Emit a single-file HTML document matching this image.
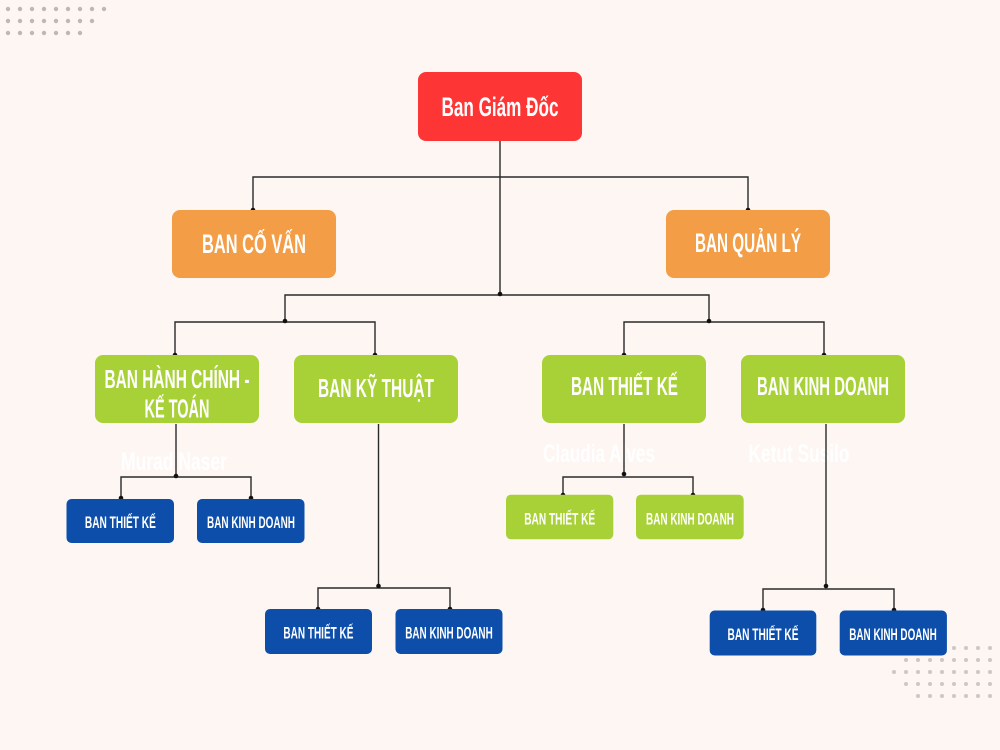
<!DOCTYPE html>
<html>
<head>
<meta charset="utf-8">
<style>
html,body{margin:0;padding:0;background:#fdf6f3;}
svg{display:block;}
text{font-family:"Liberation Sans",sans-serif;font-weight:bold;fill:#ffffff;}
</style>
</head>
<body>
<svg width="1000" height="750" viewBox="0 0 1000 750" xmlns="http://www.w3.org/2000/svg">
<rect x="0" y="0" width="1000" height="750" fill="#fdf6f3"/>

<!-- top-left dots -->
<g fill="#bdb8b6">
<circle cx="8" cy="9" r="2.2"/><circle cx="20" cy="9" r="2.2"/><circle cx="32" cy="9" r="2.2"/><circle cx="44" cy="9" r="2.2"/><circle cx="56" cy="9" r="2.2"/><circle cx="68" cy="9" r="2.2"/><circle cx="80" cy="9" r="2.2"/><circle cx="92" cy="9" r="2.2"/><circle cx="104" cy="9" r="2.2"/>
<circle cx="8" cy="21" r="2.2"/><circle cx="20" cy="21" r="2.2"/><circle cx="32" cy="21" r="2.2"/><circle cx="44" cy="21" r="2.2"/><circle cx="56" cy="21" r="2.2"/><circle cx="68" cy="21" r="2.2"/><circle cx="80" cy="21" r="2.2"/><circle cx="92" cy="21" r="2.2"/>
<circle cx="8" cy="33" r="2.2"/><circle cx="20" cy="33" r="2.2"/><circle cx="32" cy="33" r="2.2"/><circle cx="44" cy="33" r="2.2"/><circle cx="56" cy="33" r="2.2"/><circle cx="68" cy="33" r="2.2"/><circle cx="80" cy="33" r="2.2"/>
</g>

<!-- bottom-right dots -->
<g fill="#cdc8c6">
<circle cx="954" cy="648" r="2"/><circle cx="966" cy="648" r="2"/><circle cx="978" cy="648" r="2"/><circle cx="990" cy="648" r="2"/>
<circle cx="906" cy="660" r="2"/><circle cx="918" cy="660" r="2"/><circle cx="930" cy="660" r="2"/><circle cx="942" cy="660" r="2"/><circle cx="954" cy="660" r="2"/><circle cx="966" cy="660" r="2"/><circle cx="978" cy="660" r="2"/><circle cx="990" cy="660" r="2"/>
<circle cx="894" cy="672" r="2"/><circle cx="906" cy="672" r="2"/><circle cx="918" cy="672" r="2"/><circle cx="930" cy="672" r="2"/><circle cx="942" cy="672" r="2"/><circle cx="954" cy="672" r="2"/><circle cx="966" cy="672" r="2"/><circle cx="978" cy="672" r="2"/><circle cx="990" cy="672" r="2"/>
<circle cx="906" cy="684" r="2"/><circle cx="918" cy="684" r="2"/><circle cx="930" cy="684" r="2"/><circle cx="942" cy="684" r="2"/><circle cx="954" cy="684" r="2"/><circle cx="966" cy="684" r="2"/><circle cx="978" cy="684" r="2"/><circle cx="990" cy="684" r="2"/>
<circle cx="918" cy="696" r="2"/><circle cx="930" cy="696" r="2"/><circle cx="942" cy="696" r="2"/><circle cx="954" cy="696" r="2"/><circle cx="966" cy="696" r="2"/><circle cx="978" cy="696" r="2"/><circle cx="990" cy="696" r="2"/>
</g>

<!-- ghost names -->
<text x="174" y="470" font-size="25" text-anchor="middle" textLength="106" lengthAdjust="spacingAndGlyphs">Murad Naser</text>
<text x="599" y="462" font-size="25" text-anchor="middle" textLength="112" lengthAdjust="spacingAndGlyphs">Claudia Alves</text>
<text x="799" y="462" font-size="25" text-anchor="middle" textLength="101" lengthAdjust="spacingAndGlyphs">Ketut Susilo</text>

<!-- connectors -->
<g stroke="#2a2a2a" stroke-width="1.4" fill="none">
<path d="M500 141 V294"/>
<path d="M253 210 V177 H748 V210"/>
<path d="M285 321 V295 H709 V321"/>
<path d="M175 355 V322 H375 V355"/>
<path d="M624 355 V322 H824 V355"/>
<path d="M176 424 V476"/>
<path d="M121 498 V477 H251 V498"/>
<path d="M378.5 424 V586"/>
<path d="M318 609 V588 H450 V609"/>
<path d="M624 424 V474"/>
<path d="M563 495 V477 H693 V495"/>
<path d="M826 424 V586"/>
<path d="M763 610 V589 H894 V610"/>
</g>
<g fill="#111">
<circle cx="253" cy="210" r="2.3"/><circle cx="748" cy="210" r="2.3"/>
<circle cx="500" cy="294" r="2.3"/>
<circle cx="285" cy="321" r="2.3"/><circle cx="709" cy="321" r="2.3"/>
<circle cx="175" cy="355" r="2.3"/><circle cx="375" cy="355" r="2.3"/>
<circle cx="624" cy="355" r="2.3"/><circle cx="824" cy="355" r="2.3"/>
<circle cx="176" cy="476" r="2.3"/><circle cx="121" cy="498" r="2.3"/><circle cx="251" cy="498" r="2.3"/>
<circle cx="378.5" cy="586" r="2.3"/><circle cx="318" cy="609" r="2.3"/><circle cx="450" cy="609" r="2.3"/>
<circle cx="624" cy="474" r="2.3"/><circle cx="563" cy="495" r="2.3"/><circle cx="693" cy="495" r="2.3"/>
<circle cx="826" cy="586" r="2.3"/><circle cx="763" cy="610" r="2.3"/><circle cx="894" cy="610" r="2.3"/>
</g>

<!-- top box -->
<rect x="418" y="72" width="164" height="69" rx="8" fill="#fe3535"/>
<text x="500" y="116" font-size="27" text-anchor="middle" textLength="117" lengthAdjust="spacingAndGlyphs">Ban Giám Đốc</text>

<!-- orange -->
<rect x="172" y="210" width="164" height="68" rx="8" fill="#f39d46"/>
<text x="254" y="253" font-size="27" text-anchor="middle" textLength="104" lengthAdjust="spacingAndGlyphs">BAN CỐ VẤN</text>
<rect x="666" y="210" width="164" height="68" rx="8" fill="#f39d46"/>
<text x="748" y="252" font-size="27" text-anchor="middle" textLength="106" lengthAdjust="spacingAndGlyphs">BAN QUẢN LÝ</text>

<!-- green large -->
<rect x="95" y="355" width="164" height="68" rx="8" fill="#a8d137"/>
<text x="177" y="388" font-size="26" text-anchor="middle" textLength="145" lengthAdjust="spacingAndGlyphs">BAN HÀNH CHÍNH -</text>
<text x="177" y="417.5" font-size="26" text-anchor="middle" textLength="65" lengthAdjust="spacingAndGlyphs">KẾ TOÁN</text>

<rect x="294" y="355" width="164" height="68" rx="8" fill="#a8d137"/>
<text x="376" y="397" font-size="26" text-anchor="middle" textLength="116" lengthAdjust="spacingAndGlyphs">BAN KỸ THUẬT</text>

<rect x="542" y="355" width="164" height="68" rx="8" fill="#a8d137"/>
<text x="624.5" y="395" font-size="26" text-anchor="middle" textLength="107" lengthAdjust="spacingAndGlyphs">BAN THIẾT KẾ</text>

<rect x="741" y="355" width="164" height="68" rx="8" fill="#a8d137"/>
<text x="823" y="395" font-size="26" text-anchor="middle" textLength="132" lengthAdjust="spacingAndGlyphs">BAN KINH DOANH</text>

<!-- blue small left -->
<rect x="66.5" y="499" width="107.5" height="44" rx="5" fill="#0c4ea9"/>
<text x="120.4" y="528" font-size="17" text-anchor="middle" textLength="71" lengthAdjust="spacingAndGlyphs">BAN THIẾT KẾ</text>
<rect x="197" y="499" width="107.5" height="44" rx="5" fill="#0c4ea9"/>
<text x="251" y="528" font-size="17" text-anchor="middle" textLength="88" lengthAdjust="spacingAndGlyphs">BAN KINH DOANH</text>

<!-- blue small middle -->
<rect x="265" y="609" width="107" height="45" rx="5" fill="#0c4ea9"/>
<text x="318.4" y="638.5" font-size="17" text-anchor="middle" textLength="70" lengthAdjust="spacingAndGlyphs">BAN THIẾT KẾ</text>
<rect x="395.5" y="609" width="107" height="45" rx="5" fill="#0c4ea9"/>
<text x="449" y="638.5" font-size="17" text-anchor="middle" textLength="87.5" lengthAdjust="spacingAndGlyphs">BAN KINH DOANH</text>

<!-- blue small right -->
<rect x="709.7" y="610.5" width="106.6" height="45" rx="5" fill="#0c4ea9"/>
<text x="763" y="640" font-size="17" text-anchor="middle" textLength="71" lengthAdjust="spacingAndGlyphs">BAN THIẾT KẾ</text>
<rect x="839.7" y="610.5" width="107.2" height="45" rx="5" fill="#0c4ea9"/>
<text x="893" y="640" font-size="17" text-anchor="middle" textLength="87.5" lengthAdjust="spacingAndGlyphs">BAN KINH DOANH</text>

<!-- green small -->
<rect x="506" y="494.7" width="107.3" height="44.6" rx="5" fill="#a8d137"/>
<text x="559.7" y="524.5" font-size="17" text-anchor="middle" textLength="71" lengthAdjust="spacingAndGlyphs">BAN THIẾT KẾ</text>
<rect x="636" y="494.7" width="107.7" height="44.6" rx="5" fill="#a8d137"/>
<text x="690" y="524.5" font-size="17" text-anchor="middle" textLength="88" lengthAdjust="spacingAndGlyphs">BAN KINH DOANH</text>
</svg>
</body>
</html>
